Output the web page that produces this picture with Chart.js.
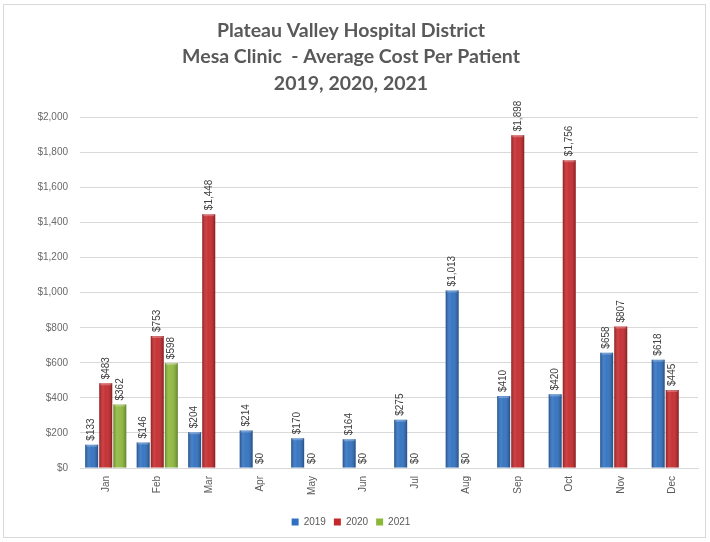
<!DOCTYPE html>
<html>
<head>
<meta charset="utf-8">
<script src="https://cdn.jsdelivr.net/npm/chart.js@4/dist/chart.umd.min.js"></script>
<style>
  html, body { margin: 0; padding: 0; background: #ffffff; }
  #wrap { position: relative; width: 710px; height: 542px; }
</style>
</head>
<body>
<div id="wrap"><canvas id="c" width="710" height="542"></canvas></div>
<script>
const categories = ['Jan','Feb','Mar','Apr','May','Jun','Jul','Aug','Sep','Oct','Nov','Dec'];
const values2019 = [133, 146, 204, 214, 170, 164, 275, 1013, 410, 420, 658, 618];
const values2020 = [483, 753, 1448, 0, 0, 0, 0, 0, 1898, 1756, 807, 445];
const values2021 = [362, 598, null, null, null, null, null, null, null, null, null, null];
const seriesNames = ['2019', '2020', '2021'];
const yTicks = [0, 200, 400, 600, 800, 1000, 1200, 1400, 1600, 1800, 2000];
const titleLines = ['Plateau Valley Hospital District', 'Mesa Clinic  - Average Cost Per Patient', '2019, 2020, 2021'];

const colors = ['#2F70C0', '#C5282B', '#8CB83A'];

function money(v) {
  return '$' + Number(v).toLocaleString('en-US');
}

const borderPlugin = {
  id: 'outerBorder',
  beforeDraw(chart) {
    const ctx = chart.ctx;
    ctx.save();
    ctx.fillStyle = '#ffffff';
    ctx.fillRect(0, 0, chart.width, chart.height);
    ctx.strokeStyle = '#d9d9d9';
    ctx.lineWidth = 1;
    ctx.strokeRect(3.5, 4.5, 702, 533);
    ctx.restore();
  }
};

const shadePlugin = {
  id: 'barShade',
  afterDatasetsDraw(chart) {
    const ctx = chart.ctx;
    chart.data.datasets.forEach((ds, di) => {
      const meta = chart.getDatasetMeta(di);
      meta.data.forEach((bar, i) => {
        const v = ds.data[i];
        if (v === null || v === undefined || v === 0) return;
        const w = bar.width;
        const left = bar.x - w / 2;
        const top = bar.y;
        const h = bar.base - bar.y;
        const g = ctx.createLinearGradient(left, 0, left + w, 0);
        g.addColorStop(0, 'rgba(0,0,0,0.28)');
        g.addColorStop(0.3, 'rgba(255,255,255,0.12)');
        g.addColorStop(0.5, 'rgba(255,255,255,0.05)');
        g.addColorStop(1, 'rgba(0,0,0,0.30)');
        ctx.save();
        ctx.fillStyle = g;
        ctx.fillRect(left, top, w, h);
        ctx.fillStyle = 'rgba(255,255,255,0.25)';
        ctx.fillRect(left + 1, top, w - 2, 2);
        ctx.restore();
      });
    });
  }
};

const labelPlugin = {
  id: 'valueLabels',
  afterDatasetsDraw(chart) {
    const ctx = chart.ctx;
    ctx.save();
    ctx.font = '10px "Liberation Sans", Arial, sans-serif';
    ctx.fillStyle = '#404040';
    ctx.textAlign = 'left';
    ctx.textBaseline = 'middle';
    chart.data.datasets.forEach((ds, di) => {
      const meta = chart.getDatasetMeta(di);
      meta.data.forEach((bar, i) => {
        const v = ds.data[i];
        if (v === null || v === undefined) return;
        ctx.save();
        ctx.translate(bar.x, bar.y - 4);
        ctx.rotate(-Math.PI / 2);
        ctx.fillText(money(v), 0, 0);
        ctx.restore();
      });
    });
    ctx.restore();
  }
};

const datasets = [values2019, values2020, values2021].map((vals, k) => ({
  label: seriesNames[k],
  data: vals,
  backgroundColor: colors[k],
  borderWidth: 0,
  categoryPercentage: 0.82,
  barPercentage: 0.92
}));

new Chart(document.getElementById('c'), {
  type: 'bar',
  data: { labels: categories, datasets },
  options: {
    responsive: false,
    animation: false,
    layout: { padding: { left: 4, right: 12, top: 0, bottom: 5 } },
    plugins: {
      title: {
        display: true,
        text: titleLines,
        color: '#595959',
        font: { family: 'Lato, "Open Sans", sans-serif', size: 19.5, weight: 'bold', lineHeight: 1.34 },
        padding: { top: 18, bottom: 21 }
      },
      legend: {
        position: 'bottom',
        labels: {
          color: '#595959',
          font: { family: '"Liberation Sans", Arial, sans-serif', size: 10 },
          boxWidth: 7,
          boxHeight: 7,
          padding: 8
        }
      },
      tooltip: { enabled: false }
    },
    scales: {
      x: {
        grid: { display: false, drawTicks: false },
        border: { color: '#d9d9d9' },
        ticks: {
          color: '#595959',
          font: { family: '"Liberation Sans", Arial, sans-serif', size: 10 },
          minRotation: 90,
          maxRotation: 90,
          padding: 8
        },
        afterFit(scale) { scale.height = 41; }
      },
      y: {
        min: 0,
        max: 2000,
        afterBuildTicks(scale) { scale.ticks = yTicks.map(v => ({ value: v })); },
        grid: { color: '#d9d9d9', drawTicks: false },
        border: { display: false },
        ticks: {
          color: '#6a6a6a',
          font: { family: '"Liberation Sans", Arial, sans-serif', size: 10 },
          padding: 12,
          callback: (v) => money(v)
        },
        afterFit(scale) { scale.width = 76; }
      }
    }
  },
  plugins: [borderPlugin, shadePlugin, labelPlugin]
});
</script>
</body>
</html>
